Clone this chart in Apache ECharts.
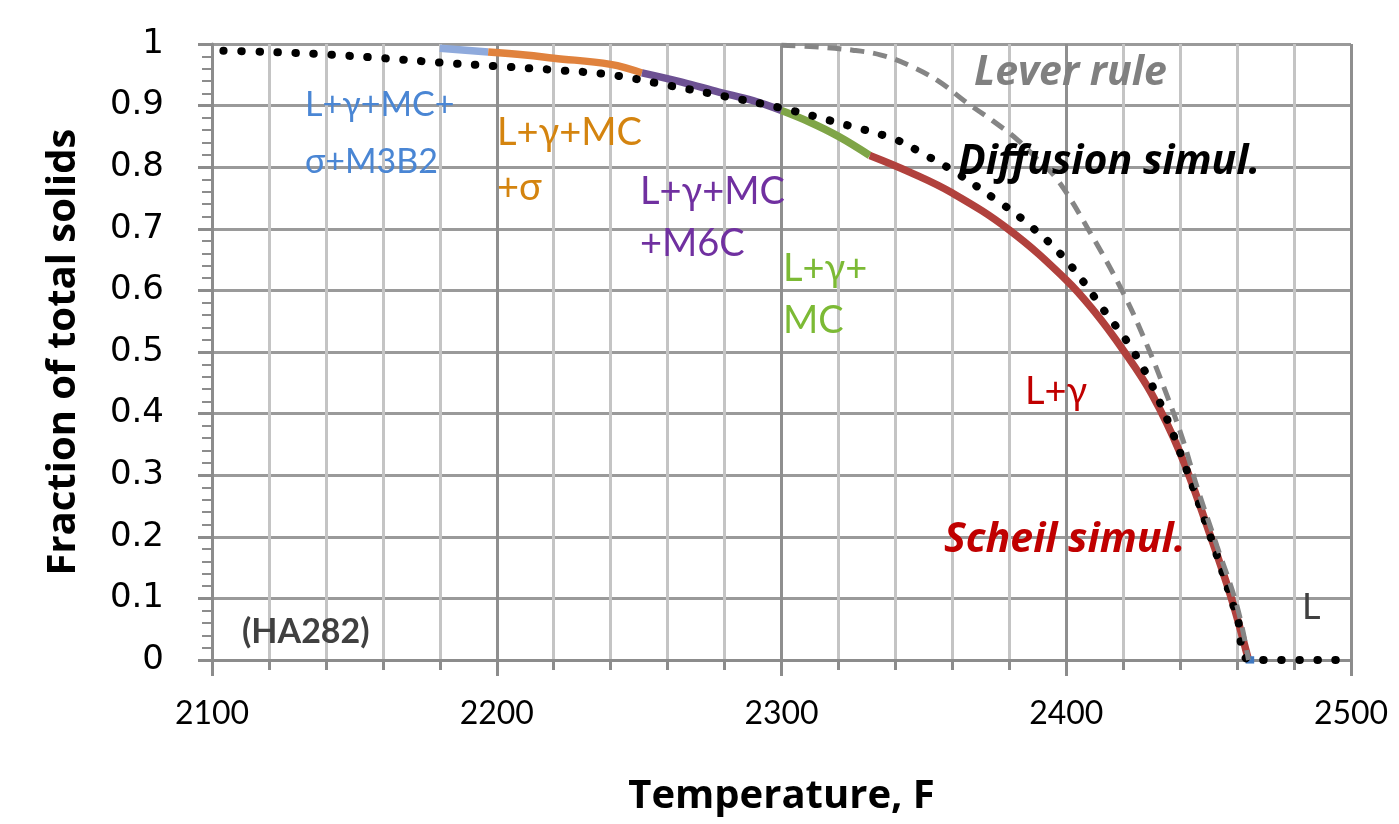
<!DOCTYPE html>
<html>
<head>
<meta charset="utf-8">
<title>HA282 solidification</title>
<script src="https://cdn.jsdelivr.net/npm/echarts@6/dist/echarts.min.js"></script>
<style>
  html, body { margin: 0; padding: 0; background: #fff; }
  #chart { width: 1399px; height: 824px; }
</style>
</head>
<body>
<div id="chart"></div>
<script>
// Temperature axis ticks (F)
const xTicks = [2100, 2200, 2300, 2400, 2500];
const yTicks = [0, 0.1, 0.2, 0.3, 0.4, 0.5, 0.6, 0.7, 0.8, 0.9, 1];

// Scheil simulation, split by phase field
const scheilM3B2T = [2180, 2197];
const scheilM3B2V = [0.993, 0.987];
const scheilSigmaT = [2197, 2210, 2220, 2240, 2251];
const scheilSigmaV = [0.987, 0.982, 0.977, 0.967, 0.953];
const scheilM6CT = [2251, 2265, 2278, 2290, 2300];
const scheilM6CV = [0.953, 0.938, 0.922, 0.908, 0.892];
const scheilMCT = [2300, 2310, 2320, 2331];
const scheilMCV = [0.892, 0.873, 0.850, 0.819];
const scheilGammaT = [2331, 2345, 2360, 2380, 2400, 2410, 2420, 2430, 2440, 2450, 2458, 2464];
const scheilGammaV = [0.819, 0.792, 0.758, 0.698, 0.617, 0.565, 0.503, 0.432, 0.336, 0.210, 0.100, 0];
const scheilLiquidT = [2463, 2466];
const scheilLiquidV = [0, 0];

// Diffusion simulation
const diffT = [2104, 2120, 2140, 2160, 2180, 2200, 2220, 2240, 2260, 2280, 2300, 2320, 2340, 2350, 2360,
               2375, 2385, 2399, 2414, 2424, 2433, 2442, 2452, 2460, 2465, 2500];
const diffV = [0.989, 0.987, 0.983, 0.977, 0.970, 0.964, 0.958, 0.950, 0.933, 0.915, 0.896, 0.872, 0.845, 0.821, 0.795,
               0.748, 0.714, 0.654, 0.563, 0.498, 0.417, 0.312, 0.182, 0.070, 0, 0];

// Lever rule (equilibrium)
const leverT = [2300, 2310, 2325, 2335, 2345, 2355, 2365, 2374, 2383, 2390, 2397, 2408, 2420, 2428, 2435, 2441, 2446, 2453, 2460, 2464];
const leverV = [0.998, 0.996, 0.990, 0.982, 0.965, 0.940, 0.905, 0.876, 0.844, 0.812, 0.779, 0.697, 0.596, 0.515, 0.434, 0.357, 0.280, 0.184, 0.087, 0];

const zip = (xs, ys) => xs.map((x, i) => [x, ys[i]]);

const FONT = 'Lato, "Open Sans", "Noto Sans", sans-serif';
const WIDE = '"Open Sans", "Noto Sans", sans-serif';

function scheilSeries(name, t, v, color) {
  return {
    name, type: 'line', data: zip(t, v), showSymbol: false, symbol: 'none',
    smooth: 0.4,
    lineStyle: { color, width: 7.5, cap: 'butt' }, z: 3, silent: true
  };
}

const chart = echarts.init(document.getElementById('chart'), null, { renderer: 'canvas' });

function txt(left, top, text, color, opts = {}) {
  return {
    type: 'text', left, top, silent: true, z: 10,
    style: {
      text, fill: color,
      font: (opts.style || 'normal') + ' ' + (opts.weight || 'normal') + ' ' + (opts.size || 38) + 'px ' + (opts.family || FONT),
      lineHeight: opts.lh || 54
    }
  };
}

chart.setOption({
  animation: false,
  backgroundColor: '#fff',
  grid: { left: 212, right: 48, top: 44, bottom: 164, containLabel: false, outerBoundsMode: 'none' },
  xAxis: {
    type: 'value', min: xTicks[0], max: xTicks[xTicks.length - 1], interval: 100,
    name: 'Temperature, F', nameLocation: 'middle', nameGap: 117,
    nameTextStyle: { fontFamily: WIDE, fontWeight: 'bold', fontSize: 40, color: '#000' },
    axisLine: { show: true, lineStyle: { color: '#8c8c8c', width: 3 } },
    axisTick: { show: true, length: 16, inside: false, lineStyle: { color: '#8c8c8c', width: 3 } },
    minorTick: { show: true, splitNumber: 5, length: 10, lineStyle: { color: '#8c8c8c', width: 3 } },
    axisLabel: { fontFamily: FONT, fontSize: 32, color: '#000', margin: 38, formatter: v => String(v) },
    splitLine: { show: true, lineStyle: { color: '#8f8f8f', width: 3 } },
    minorSplitLine: { show: true, lineStyle: { color: '#c4c4c4', width: 3 } }
  },
  yAxis: {
    type: 'value', min: yTicks[0], max: yTicks[yTicks.length - 1], interval: 0.1,
    name: 'Fraction of total solids', nameLocation: 'middle', nameGap: 128, nameRotate: 90,
    nameTextStyle: { fontFamily: WIDE, fontWeight: 'bold', fontSize: 40, color: '#000' },
    axisLine: { show: true, lineStyle: { color: '#8c8c8c', width: 3 } },
    axisTick: { show: true, length: 14, inside: false, lineStyle: { color: '#8c8c8c', width: 3 } },
    minorTick: { show: true, splitNumber: 5, length: 10, lineStyle: { color: '#8c8c8c', width: 2 } },
    axisLabel: {
      fontFamily: '"DejaVu Sans", sans-serif', fontSize: 34, color: '#000', margin: 48,
      formatter: v => String(Math.round(v * 10) / 10)
    },
    splitLine: { show: true, lineStyle: { color: '#9a9a9a', width: 3 } }
  },
  series: [
    scheilSeries('Scheil L+γ+MC+σ+M3B2', scheilM3B2T, scheilM3B2V, '#8faadc'),
    scheilSeries('Scheil L+γ+MC+σ', scheilSigmaT, scheilSigmaV, '#e0823d'),
    scheilSeries('Scheil L+γ+MC+M6C', scheilM6CT, scheilM6CV, '#6d5193'),
    scheilSeries('Scheil L+γ+MC', scheilMCT, scheilMCV, '#7fa547'),
    scheilSeries('Scheil L+γ', scheilGammaT, scheilGammaV, '#b1413d'),
    scheilSeries('Scheil L', scheilLiquidT, scheilLiquidV, '#3f78c0'),
    {
      name: 'Diffusion simul.', type: 'line', data: zip(diffT, diffV), showSymbol: false, symbol: 'none',
      smooth: 0.4, z: 4, silent: true,
      lineStyle: { color: '#000', width: 8, type: [0.5, 17.5], cap: 'round' }
    },
    {
      name: 'Lever rule', type: 'line', data: zip(leverT, leverV), showSymbol: false, symbol: 'none',
      smooth: 0.4, z: 5, silent: true,
      lineStyle: { color: '#858585', width: 5, type: [14, 9], cap: 'butt' }
    }
  ],
  graphic: [
    txt(305, 77, 'L+γ+MC+\nσ+M3B2', '#4a86d4', { size: 34, lh: 57 }),
    txt(497, 105, 'L+γ+MC\n+σ', '#d4840f', { lh: 55 }),
    txt(640, 166, 'L+γ+MC\n+M6C', '#7030a0', { lh: 52 }),
    txt(783, 243, 'L+γ+\nMC', '#7cba35', { lh: 52 }),
    txt(1025, 365, 'L+γ', '#c00000'),
    txt(944, 515, 'Scheil simul.', '#c00000', { weight: 'bold', style: 'italic', size: 41, family: WIDE, lh: 50 }),
    txt(958, 137, 'Diffusion simul.', '#000', { weight: 'bold', style: 'italic', size: 41, family: WIDE, lh: 50 }),
    txt(974, 48, 'Lever rule', '#808080', { weight: 'bold', style: 'italic', size: 41, family: WIDE, lh: 50 }),
    txt(1302, 580, 'L', '#404040', { size: 36 }),
    txt(242, 615, '(HA282)', '#404040', { weight: 'bold', size: 34, lh: 34 })
  ]
});
</script>
</body>
</html>
